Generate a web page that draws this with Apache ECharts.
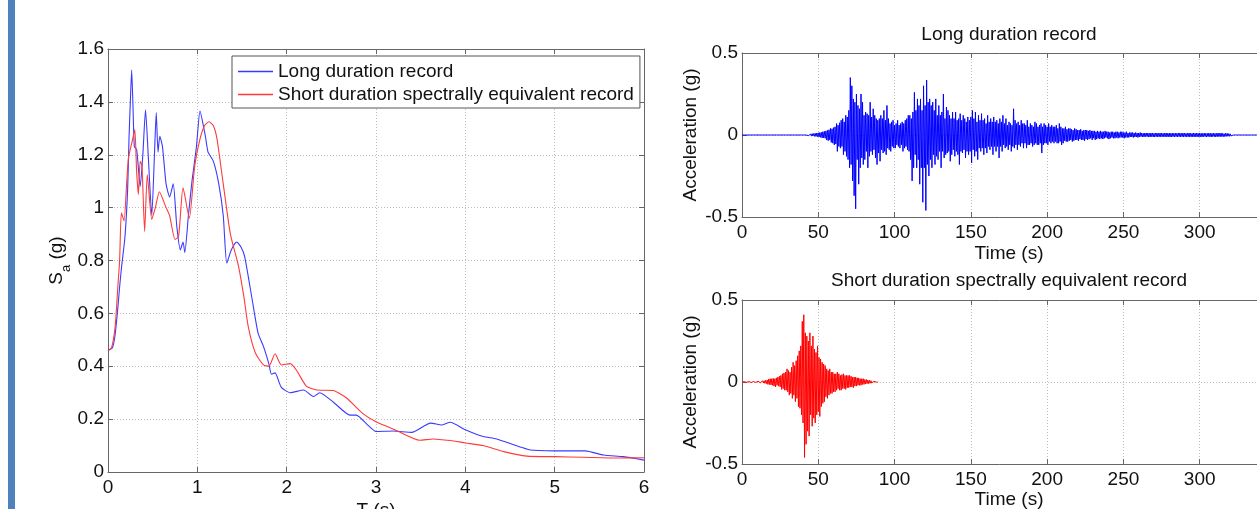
<!DOCTYPE html>
<html style="height: 100%">
   <head>
       <meta charset="utf-8">
   </head>
   <body style="height: 100%;margin: 0;background:#fff">
       <div id="container" style="height: 509px; width:1257px;"></div>
       <script type="text/javascript" src="https://cdn.jsdelivr.net/npm/echarts@6/dist/echarts.min.js"></script>
       <script type="text/javascript">

// response spectra, period T (s) and Sa (g)
var longT  = [0,0.05,0.08,0.11,0.13,0.15,0.19,0.22,0.235,0.25,0.265,0.28,0.295,0.32,0.34,0.36,0.39,0.42,0.45,0.49,
              0.52,0.54,0.56,0.58,0.61,0.65,0.69,0.73,0.77,0.81,0.84,0.86,0.90,0.94,0.99,1.03,1.09,1.12,1.18,1.24,
              1.29,1.33,1.38,1.44,1.49,1.53,1.61,1.68,1.74,1.80,1.83,1.87,1.94,2.04,2.19,2.30,2.37,2.52,2.71,2.78,
              2.90,3.0,3.19,3.40,3.61,3.74,3.83,4.0,4.2,4.35,4.73,5.0,5.34,5.55,5.77,6.0];
var longSa = [0.46,0.47,0.52,0.62,0.70,0.77,0.89,1.07,1.26,1.40,1.52,1.38,1.23,1.22,1.15,1.08,1.20,1.37,1.20,0.97,
              1.20,1.36,1.21,1.27,1.23,1.09,1.04,1.09,0.93,0.84,0.87,0.83,0.97,1.10,1.23,1.365,1.27,1.21,1.175,1.09,
              0.97,0.79,0.84,0.87,0.85,0.815,0.66,0.525,0.475,0.41,0.37,0.375,0.32,0.30,0.31,0.285,0.30,0.265,0.215,0.215,
              0.18,0.153,0.155,0.15,0.185,0.178,0.188,0.16,0.134,0.125,0.083,0.08,0.08,0.064,0.058,0.045];

var shortT  = [0,0.04,0.08,0.11,0.13,0.15,0.18,0.21,0.23,0.27,0.30,0.32,0.34,0.36,0.38,0.41,0.44,0.49,0.53,0.575,
               0.65,0.69,0.75,0.79,0.84,0.91,0.97,1.03,1.08,1.13,1.18,1.22,1.29,1.37,1.46,1.52,1.57,1.65,1.74,1.80,
               1.87,1.94,2.04,2.11,2.22,2.34,2.52,2.67,2.85,3.0,3.23,3.49,3.64,3.83,4.0,4.2,4.43,4.69,5.0,5.32,
               5.7,6.0];
var shortSa = [0.46,0.47,0.55,0.70,0.80,0.98,0.95,1.10,1.19,1.25,1.295,1.14,1.05,1.175,1.16,0.91,1.125,0.955,1.00,1.06,
               1.00,0.97,0.88,0.89,1.075,0.96,1.155,1.26,1.31,1.325,1.31,1.26,1.09,0.90,0.78,0.665,0.55,0.45,0.405,0.40,
               0.447,0.405,0.41,0.385,0.325,0.31,0.308,0.28,0.222,0.19,0.157,0.12,0.125,0.119,0.11,0.10,0.077,0.06,0.058,0.056,
               0.053,0.054];

// acceleration records (g), one sample every dt seconds from t = 0
var longDt = 0.5;
var longAcc = [
  0,0,0,0,0,0,0,0,0,0, 0,0,0,0,0,0,0,0,0,0, 0,0,0,0,0,0,0,0,0,0, 0,0,0,0,0,0,0,0,0,0,
  0,0,0,0,0,0,0,0,0,0, 0,0,0,0,0,0,0,0,0,0, 0,0,0,0,0,0,0,0,0,0, 0,0,0,0,0,0,0,0,0,0,
  0,0,0,0,0,0,0.003,-0.004,0.004,-0.005,
  0.006,-0.007,0.008,-0.006,0.009,-0.008,0.01,-0.009,0.012,-0.01,
  0.013,-0.012,0.015,-0.014,0.016,-0.018,0.02,-0.017,0.022,-0.02,
  0.025,-0.03,0.028,-0.035,0.032,-0.03,0.04,-0.045,0.038,-0.05,
  0.045,-0.06,0.05,-0.055,0.07,-0.1,0.06,-0.07,0.075,-0.08,
  0.09,-0.07,0.1,-0.12,0.08,-0.1,0.12,-0.13,0.11,-0.15,
  0.15,-0.2,0.35,-0.18,0.3,-0.28,0.22,-0.37,0.2,-0.45,
  0.25,-0.15,0.18,-0.3,0.16,-0.2,0.25,-0.14,0.2,-0.18,
  0.12,-0.15,0.14,-0.1,0.13,-0.2,0.12,-0.13,0.2,-0.1,
  0.11,-0.12,0.16,-0.09,0.12,-0.14,0.1,-0.18,0.09,-0.11,
  0.1,-0.16,0.12,-0.09,0.1,-0.11,0.15,-0.1,0.09,-0.12,
  0.18,-0.08,0.1,-0.09,0.07,-0.1,0.08,-0.07,0.09,-0.08,
  0.06,-0.08,0.07,-0.06,0.09,-0.07,0.06,-0.08,0.07,-0.06,
  0.08,-0.1,0.07,-0.08,0.09,-0.07,0.1,-0.09,0.12,-0.1,
  0.12,-0.15,0.1,-0.28,0.14,-0.2,0.26,-0.12,0.15,-0.2,
  0.22,-0.15,0.18,-0.3,0.22,-0.2,0.15,-0.41,0.3,-0.2,
  0.18,-0.46,0.335,-0.18,0.2,-0.25,0.22,-0.15,0.18,-0.2,
  0.2,-0.12,0.15,-0.18,0.22,-0.13,0.12,-0.15,0.18,-0.1,
  0.12,-0.2,0.14,-0.1,0.25,-0.14,0.1,-0.12,0.17,-0.11,
  0.15,-0.1,0.12,-0.16,0.1,-0.12,0.14,-0.09,0.1,-0.13,
  0.14,-0.1,0.09,-0.12,0.1,-0.18,0.13,-0.1,0.09,-0.11,
  0.12,-0.09,0.1,-0.14,0.08,-0.1,0.11,-0.12,0.09,-0.1,
  0.11,-0.17,0.15,-0.09,0.1,-0.13,0.14,-0.1,0.08,-0.15,
  0.12,-0.08,0.09,-0.1,0.13,-0.08,0.09,-0.12,0.1,-0.08,
  0.07,-0.11,0.12,-0.07,0.08,-0.09,0.1,-0.07,0.08,-0.12,
  0.11,-0.07,0.08,-0.1,0.09,-0.07,0.07,-0.14,0.1,-0.07,
  0.08,-0.1,0.12,-0.06,0.07,-0.08,0.1,-0.07,0.06,-0.09,
  0.08,-0.06,0.07,-0.1,0.06,-0.07,0.16,-0.08,0.09,-0.06,
  0.07,-0.09,0.08,-0.06,0.06,-0.07,0.09,-0.05,0.07,-0.08,
  0.07,-0.05,0.06,-0.08,0.09,-0.06,0.05,-0.06,0.07,-0.05,
  0.06,-0.07,0.05,-0.06,0.08,-0.05,0.07,-0.06,0.05,-0.06,
  0.06,-0.05,0.07,-0.11,0.05,-0.06,0.07,-0.05,0.06,-0.05,
  0.05,-0.06,0.07,-0.04,0.05,-0.05,0.06,-0.04,0.05,-0.05,
  0.05,-0.04,0.06,-0.05,0.04,-0.05,0.07,-0.04,0.05,-0.06,
  0.04,-0.05,0.04,-0.035,0.05,-0.04,0.035,-0.04,0.04,-0.035,
  0.04,-0.03,0.035,-0.04,0.03,-0.035,0.04,-0.03,0.035,-0.03,
  0.03,-0.035,0.03,-0.025,0.035,-0.03,0.025,-0.03,0.03,-0.035,
  0.03,-0.025,0.03,-0.03,0.025,-0.025,0.03,-0.02,0.025,-0.03,
  0.025,-0.02,0.025,-0.03,0.02,-0.025,0.025,-0.02,0.02,-0.025,
  0.025,-0.02,0.02,-0.025,0.02,-0.02,0.025,-0.015,0.02,-0.02,
  0.02,-0.025,0.015,-0.02,0.02,-0.015,0.02,-0.02,0.015,-0.02,
  0.02,-0.015,0.02,-0.02,0.015,-0.015,0.02,-0.015,0.02,-0.015,
  0.015,-0.02,0.015,-0.015,0.02,-0.015,0.012,-0.015,0.015,-0.012,
  0.015,-0.012,0.015,-0.015,0.012,-0.012,0.015,-0.012,0.012,-0.015,
  0.012,-0.012,0.015,-0.01,0.012,-0.012,0.01,-0.012,0.012,-0.01,
  0.012,-0.01,0.012,-0.012,0.01,-0.012,0.012,-0.01,0.012,-0.012,
  0.01,-0.012,0.012,-0.01,0.012,-0.012,0.01,-0.01,0.012,-0.012,
  0.012,-0.01,0.01,-0.012,0.012,-0.01,0.012,-0.012,0.01,-0.01,
  0.012,-0.012,0.01,-0.012,0.012,-0.01,0.01,-0.012,0.012,-0.01,
  0.01,-0.012,0.012,-0.01,0.012,-0.012,0.01,-0.01,0.012,-0.012,
  0.012,-0.01,0.01,-0.012,0.012,-0.01,0.012,-0.012,0.01,-0.01,
  0.01,-0.012,0.012,-0.01,0.01,-0.012,0.012,-0.01,0.01,-0.012,
  0.012,-0.01,0.01,-0.012,0.01,-0.01,0.012,-0.01,0.01,-0.012,
  0.01,-0.01,0.012,-0.01,0.01,-0.012,0.01,-0.01,0.012,-0.01,
  0.01,-0.012,0.01,-0.01,0.012,-0.01,0.01,-0.01,0.012,-0.01,
  0.01,-0.01,0.008,-0.01,0.01,-0.008,0.01,-0.008,0.008,-0.008,
  0.007,-0.006,0.004,-0.003,0,0,0,0,0,0,
  0,0,0,0,0,0,0,0,0,0, 0,0,0,0,0,0,0,0,0,0, 0,0,0,0,0,0,0,0,0,0,
  0,0,0,0,0,0,0,0,0,0, 0,0,0,0,0,0,0,0,0,0, 0
];

var shortDt = 0.5;
var shortAcc = [
  0,0.001,-0.001,0.002,-0.001,0.002,-0.002,0.002,-0.002,0.003,-0.002,0.003,-0.003,0.002,-0.003,0.003,-0.002,0.003,-0.003,0.003,
  -0.004,0.005,-0.004,0.006,-0.005,0.006,-0.006,0.007,-0.006,0.008,-0.008,0.01,-0.01,0.012,-0.015,0.018,-0.015,0.02,-0.018,0.02,
  -0.02,0.022,-0.025,0.02,-0.03,0.025,-0.02,0.03,-0.025,0.035,-0.03,0.04,-0.045,0.05,-0.04,0.055,-0.05,0.06,-0.05,0.08,
  -0.06,0.07,-0.08,0.06,-0.07,0.09,-0.1,0.12,-0.08,0.1,-0.12,0.13,-0.1,0.16,-0.15,0.19,-0.16,0.22,-0.2,0.37,
  -0.25,0.41,-0.46,0.3,-0.38,0.28,-0.3,0.25,-0.33,0.3,-0.2,0.22,-0.27,0.28,-0.22,0.2,-0.25,0.18,-0.2,0.22,
  -0.18,0.15,-0.21,0.14,-0.15,0.12,-0.13,0.11,-0.12,0.1,-0.09,0.08,-0.1,0.07,-0.08,0.08,-0.07,0.06,-0.07,0.06,
  -0.06,0.05,-0.06,0.05,-0.05,0.06,-0.04,0.05,-0.05,0.04,-0.05,0.045,-0.04,0.05,-0.04,0.04,-0.045,0.04,-0.035,0.04,
  -0.035,0.04,-0.03,0.035,-0.03,0.03,-0.035,0.03,-0.025,0.03,-0.025,0.025,-0.02,0.025,-0.02,0.02,-0.02,0.02,-0.015,0.02,
  -0.015,0.015,-0.012,0.015,-0.01,0.012,-0.01,0.01,-0.008,0.008,-0.006,0.006,-0.005,0.004,-0.003,0.002,-0.001,0.001,0
];

var legendNames = ['Long duration record', 'Short duration spectrally equivalent record'];
var titles = ['Long duration record', 'Short duration spectrally equivalent record'];

function pairs(xs, ys) {
    var out = [];
    for (var i = 0; i < ys.length; i++) out.push([xs[i], ys[i]]);
    return out;
}
function record(dt, acc) {
    var out = [];
    for (var i = 0; i < acc.length; i++) out.push([i * dt, acc[i]]);
    return out;
}

var dom = document.getElementById("container");
var myChart = echarts.init(dom);
var txt = '#111';
var frame = '#666';
var font = 'Liberation Sans, Arial, sans-serif';
var grids = [
    {left: 108, top: 49, width: 536, height: 423, outerBoundsMode: 'none'},
    {left: 742, top: 53, width: 534, height: 164, outerBoundsMode: 'none'},
    {left: 742, top: 300, width: 534, height: 164, outerBoundsMode: 'none'}
];

function mainX(gi, max, interval, name, gap) {
    return {
        gridIndex: gi, type: 'value', min: 0, max: max, interval: interval,
        name: name, nameLocation: 'middle', nameGap: gap, nameMoveOverlap: false,
        nameTextStyle: {color: txt, fontSize: 19, fontFamily: font},
        axisLine: {onZero: false, lineStyle: {color: frame}},
        axisTick: {inside: true, length: 5, lineStyle: {color: frame}},
        axisLabel: {color: txt, fontSize: 19, fontFamily: font, margin: 6},
        splitLine: {show: true, lineStyle: {color: '#bdbdbd', type: [1, 2]}}
    };
}
function topX(gi, max, interval, title, gap) {
    return {
        gridIndex: gi, type: 'value', position: 'top', min: 0, max: max, interval: interval,
        name: title, nameLocation: 'middle', nameGap: gap, nameMoveOverlap: false,
        nameTextStyle: {color: txt, fontSize: 19, fontFamily: font},
        axisLine: {onZero: false, lineStyle: {color: frame}},
        axisTick: {inside: true, length: 5, lineStyle: {color: frame}},
        axisLabel: {show: false}, splitLine: {show: false}
    };
}
function mainY(gi, min, max, interval, name, gap) {
    return {
        gridIndex: gi, type: 'value', min: min, max: max, interval: interval,
        name: name, nameLocation: 'middle', nameGap: gap, nameRotate: 90, nameMoveOverlap: false,
        nameTextStyle: {color: txt, fontSize: 19, fontFamily: font,
            rich: {s: {fontSize: 19, fontFamily: font, color: txt, padding: [0, 0, 7, 0]},
                   sub: {fontSize: 13, fontFamily: font, color: txt, verticalAlign: 'bottom'}}},
        axisLine: {onZero: false, lineStyle: {color: frame}},
        axisTick: {inside: true, length: 5, lineStyle: {color: frame}},
        axisLabel: {color: txt, fontSize: 19, fontFamily: font, margin: 4},
        splitLine: {show: true, lineStyle: {color: '#bdbdbd', type: [1, 2]}}
    };
}

option = {
    animation: false,
    backgroundColor: '#fff',
    graphic: [{type: 'rect', shape: {x: 8, y: 0, width: 7, height: 509}, style: {fill: '#4f81bd'}}],
    legend: {
        data: legendNames, orient: 'vertical', left: 232, top: 56,
        icon: 'rect', itemWidth: 35, itemHeight: 1.5, itemGap: 4,
        padding: [6, 6, 4, 6],
        backgroundColor: '#fff', borderColor: '#555', borderWidth: 1,
        textStyle: {color: txt, fontSize: 19, fontFamily: font}
    },
    grid: grids,
    xAxis: [
        mainX(0, 6, 1, 'T (s)', 29), topX(0, 6, 1, '', 0),
        mainX(1, 350, 50, 'Time (s)', 27), topX(1, 350, 50, titles[0], 9),
        mainX(2, 350, 50, 'Time (s)', 26), topX(2, 350, 50, titles[1], 10)
    ],
    yAxis: [
        mainY(0, 0, 1.6, 0.2, '{s|S}{sub|a}{s| (g)}', 35),
        {gridIndex: 0, type: 'value', position: 'right', min: 0, max: 1.6, interval: 0.2,
         axisLine: {onZero: false, lineStyle: {color: frame}},
         axisTick: {inside: true, length: 5, lineStyle: {color: frame}},
         axisLabel: {show: false}, splitLine: {show: false}},
        mainY(1, -0.5, 0.5, 0.5, 'Acceleration (g)', 42),
        mainY(2, -0.5, 0.5, 0.5, 'Acceleration (g)', 42)
    ],
    series: [
        {name: legendNames[0], type: 'line', xAxisIndex: 0, yAxisIndex: 0, symbol: 'none', smooth: 0.2,
         lineStyle: {color: '#3a3aff', width: 1.1}, itemStyle: {color: '#3a3aff'}, data: pairs(longT, longSa)},
        {name: legendNames[1], type: 'line', xAxisIndex: 0, yAxisIndex: 0, symbol: 'none', smooth: 0.2,
         lineStyle: {color: '#ff3a3a', width: 1.1}, itemStyle: {color: '#ff3a3a'}, data: pairs(shortT, shortSa)},
        {name: 'long record', type: 'line', xAxisIndex: 2, yAxisIndex: 2, symbol: 'none',
         lineStyle: {color: '#0000ff', width: 1}, data: record(longDt, longAcc)},
        {name: 'short record', type: 'line', xAxisIndex: 4, yAxisIndex: 3, symbol: 'none',
         lineStyle: {color: '#ff0000', width: 1}, data: record(shortDt, shortAcc)}
    ]
};

if (option && typeof option === "object") {
    myChart.setOption(option, true);
}
       </script>
   </body>
</html>
